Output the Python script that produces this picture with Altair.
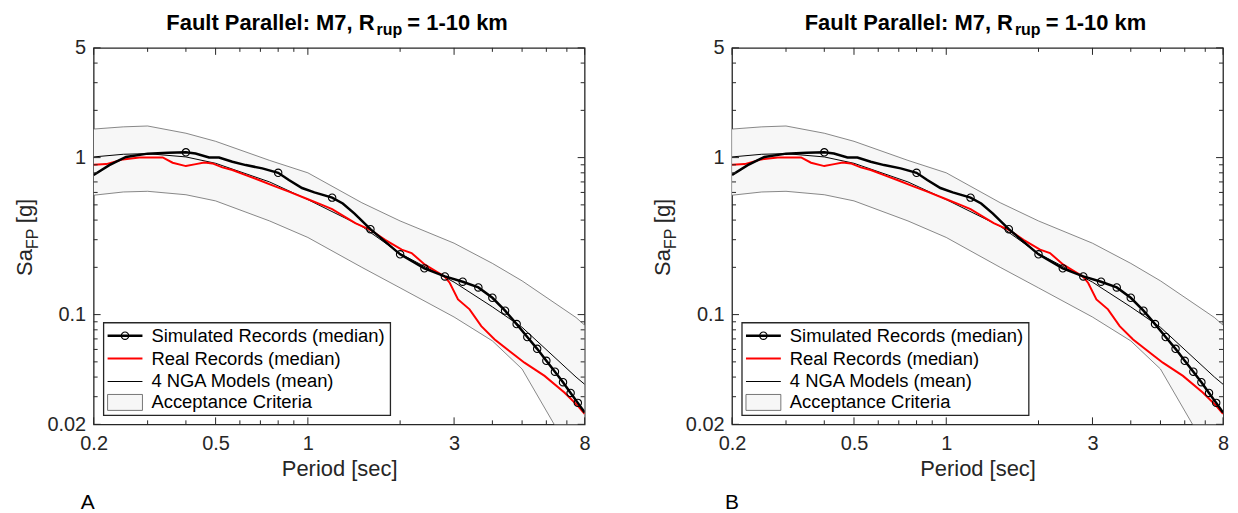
import altair as alt
import pandas as pd

# ---------------- data ----------------
# Acceptance criteria band and 4-NGA mean, at the NGA periods
nga_T = [0.2, 0.25, 0.3, 0.4, 0.5, 0.75, 1.0, 1.5, 2.0, 3.0, 4.0, 5.0, 7.5, 8.0]
band_upper = [1.52, 1.57, 1.59, 1.43, 1.27, 0.96, 0.80, 0.516, 0.395, 0.285, 0.212, 0.164, 0.0958, 0.0857]
band_lower = [0.576, 0.604, 0.61, 0.58, 0.53, 0.395, 0.31, 0.20, 0.148, 0.0965, 0.068, 0.045, 0.0115, 0.0098]
nga_mean = [1.01, 1.05, 1.06, 1.01, 0.92, 0.70, 0.54, 0.365, 0.245, 0.161, 0.112, 0.083, 0.040, 0.036]

# Simulated records (median)
sim_T = [0.2, 0.225, 0.255, 0.30, 0.35, 0.40, 0.43, 0.476, 0.513, 0.567, 0.627, 0.71, 0.80,
         0.867, 0.957, 1.05, 1.2, 1.3, 1.42, 1.6, 2.0, 2.4, 2.8, 3.2, 3.6, 4.0, 4.4, 4.8,
         5.2, 5.6, 6.0, 6.4, 6.8, 7.2, 7.6, 8.0]
sim_Sa = [0.775, 0.895, 1.01, 1.06, 1.075, 1.08, 1.063, 1.003, 1.0, 0.942, 0.896, 0.854, 0.80,
          0.72, 0.64, 0.60, 0.556, 0.51, 0.44, 0.35, 0.242, 0.197, 0.175, 0.162, 0.149, 0.128,
          0.106, 0.087, 0.072, 0.0605, 0.0508, 0.0433, 0.0371, 0.0317, 0.0274, 0.0238]
marker_T = [0.4, 0.8, 1.2, 1.6, 2.0, 2.4, 2.8, 3.2, 3.6, 4.0, 4.4, 4.8, 5.2, 5.6, 6.0, 6.4,
            6.8, 7.2, 7.6]

# Real records (median)
real_T = [0.2, 0.22, 0.249, 0.282, 0.336, 0.362, 0.40, 0.431, 0.459, 0.488, 0.526, 0.567,
          0.627, 0.692, 0.785, 0.867, 0.982, 1.112, 1.2, 1.428, 1.598, 1.787, 2.024, 2.18,
          2.41, 2.80, 2.905, 3.09, 3.37, 3.68, 4.07, 4.61, 5.09, 5.92, 6.87, 7.59, 8.0]
real_Sa = [0.90, 0.909, 0.974, 1.003, 1.003, 0.928, 0.883, 0.909, 0.932, 0.918, 0.867, 0.833,
           0.774, 0.72, 0.653, 0.607, 0.551, 0.50, 0.47, 0.382, 0.347, 0.2996, 0.259, 0.2466,
           0.208, 0.174, 0.159, 0.125, 0.108, 0.0845, 0.0695, 0.0573, 0.0494, 0.0407, 0.0319,
           0.0263, 0.0233]

# axis ticks
x_labels = [0.2, 0.5, 1, 3, 8]
x_minor = [0.3, 0.4, 0.6, 0.7, 0.8, 0.9, 2, 4, 5, 6, 7]
y_labels = [0.02, 0.1, 1, 5]
y_minor = [0.03, 0.04, 0.05, 0.06, 0.07, 0.08, 0.09, 0.2, 0.3, 0.4, 0.5, 0.6, 0.7, 0.8, 0.9, 2, 3, 4]

legend_labels = ["Simulated Records (median)", "Real Records (median)",
                 "4 NGA Models (mean)", "Acceptance Criteria"]
title_parts = ["Fault Parallel: M7, R", "rup", "= 1-10 km"]
ytitle_parts = ["Sa", "FP", "[g]"]
panel_names = ["A", "B"]

# ---------------- tables ----------------
band_df = pd.DataFrame({"T": nga_T, "up": band_upper, "lo": band_lower, "mean": nga_mean})
sim_df = pd.DataFrame({"T": sim_T, "Sa": sim_Sa})
sim_lookup = dict(zip([round(t, 3) for t in sim_T], sim_Sa))
mark_df = pd.DataFrame({"T": marker_T, "Sa": [sim_lookup[round(t, 3)] for t in marker_T]})
real_df = pd.DataFrame({"T": real_T, "Sa": real_Sa})
one = pd.DataFrame({"d": [0]})

W, H = 493, 378
FONT = "Liberation Sans"
AX = "#262626"

xs = alt.Scale(type="log", domain=[0.2, 8], nice=False)
ys = alt.Scale(type="log", domain=[0.02, 5], nice=False)

x_axis = alt.Axis(values=x_labels, format="~g", title="Period [sec]", ticks=False, tickSize=0,
                  domain=False, grid=False, labelFontSize=20, labelColor=AX, labelPadding=9,
                  labelFont=FONT, labelFlush=False, labelOverlap=False,
                  titleFont=FONT, titleFontSize=22, titleFontWeight="normal", titleColor=AX,
                  titlePadding=5)
y_axis = alt.Axis(values=y_labels, format="~g", title=None, ticks=False, tickSize=0,
                  domain=False, grid=False, labelFontSize=20, labelColor=AX, labelPadding=8,
                  labelFont=FONT, labelFlush=False, labelOverlap=False)


def X(field):
    return alt.X(f"{field}:Q", scale=xs, axis=x_axis)


def Y(field):
    return alt.Y(f"{field}:Q", scale=ys, axis=y_axis)


def tick_layers():
    layers = []
    for vals, ln in ((x_labels, 7), (x_minor, 4)):
        d = pd.DataFrame({"v": vals})
        layers.append(alt.Chart(d).mark_rule(color=AX, strokeWidth=1).encode(
            x=X("v"), y=alt.value(H), y2=alt.value(H - ln)))
        layers.append(alt.Chart(d).mark_rule(color=AX, strokeWidth=1).encode(
            x=X("v"), y=alt.value(0), y2=alt.value(ln)))
    for vals, ln in ((y_labels, 7), (y_minor, 4)):
        d = pd.DataFrame({"v": vals})
        layers.append(alt.Chart(d).mark_rule(color=AX, strokeWidth=1).encode(
            y=Y("v"), x=alt.value(0), x2=alt.value(ln)))
        layers.append(alt.Chart(d).mark_rule(color=AX, strokeWidth=1).encode(
            y=Y("v"), x=alt.value(W), x2=alt.value(W - ln)))
    return layers


def txt(s, x, y, size, weight="normal", align="left", baseline="alphabetic", angle=0, color="black"):
    kw = dict(align=align, baseline=baseline, fontSize=size, font=FONT, fontWeight=weight, color=color)
    if angle:
        kw["angle"] = angle
    return alt.Chart(one).mark_text(**kw).encode(
        x=alt.value(x), y=alt.value(y), text=alt.value(s))


def panel(name, name_dx):
    band = alt.Chart(band_df).mark_area(color="#f7f7f7", clip=True).encode(
        x=X("T"), y=Y("up"), y2="lo:Q")
    up = alt.Chart(band_df).mark_line(color="#555555", strokeWidth=0.7, clip=True).encode(
        x=X("T"), y=Y("up"))
    lo = alt.Chart(band_df).mark_line(color="#555555", strokeWidth=0.7, clip=True).encode(
        x=X("T"), y=Y("lo"))
    mean = alt.Chart(band_df).mark_line(color="black", strokeWidth=1, clip=True).encode(
        x=X("T"), y=Y("mean"))
    real = alt.Chart(real_df).mark_line(color="#ff0000", strokeWidth=2, clip=True).encode(
        x=X("T"), y=Y("Sa"))
    sim = alt.Chart(sim_df).mark_line(color="black", strokeWidth=2.5, clip=True).encode(
        x=X("T"), y=Y("Sa"))
    marks = alt.Chart(mark_df).mark_point(shape="circle", filled=False, color="black",
                                          size=55, strokeWidth=1.1, opacity=1, clip=True).encode(
        x=X("T"), y=Y("Sa"))

    # legend
    lg = [
        alt.Chart(one).mark_rect(fill="white", stroke=AX, strokeWidth=1.3).encode(
            x=alt.value(10), x2=alt.value(298), y=alt.value(276), y2=alt.value(369)),
        alt.Chart(one).mark_rule(color="black", strokeWidth=2.5).encode(
            x=alt.value(14), x2=alt.value(49), y=alt.value(289)),
        alt.Chart(one).mark_point(shape="circle", filled=False, color="black", size=55,
                                  strokeWidth=1.1, opacity=1).encode(
            x=alt.value(31.5), y=alt.value(289)),
        alt.Chart(one).mark_rule(color="#ff0000", strokeWidth=2).encode(
            x=alt.value(14), x2=alt.value(49), y=alt.value(312)),
        alt.Chart(one).mark_rule(color="black", strokeWidth=1).encode(
            x=alt.value(14), x2=alt.value(49), y=alt.value(335)),
        alt.Chart(one).mark_rect(fill="#f7f7f7", stroke="#555555", strokeWidth=0.8).encode(
            x=alt.value(14), x2=alt.value(49), y=alt.value(348), y2=alt.value(364)),
    ]
    for lab, yy in zip(legend_labels, (289, 312, 335, 356)):
        lg.append(txt(lab, 58, yy, 18.5, baseline="middle"))

    # title with subscript
    tx0 = 73
    t = [txt(title_parts[0], tx0, -18, 22, weight="bold"),
         txt(title_parts[1], tx0 + 211, -13, 16, weight="bold"),
         txt(title_parts[2], tx0 + 242, -18, 22, weight="bold")]

    # y title with subscript (rotated)
    yt = [txt(ytitle_parts[0], -62, 229, 22, angle=270, color=AX),
          txt(ytitle_parts[1], -56, 202, 16, angle=270, color=AX),
          txt(ytitle_parts[2], -62, 176, 22, angle=270, color=AX)]

    lab = [txt(name, name_dx, 463, 21)]

    layers = [band, up, lo, mean, real, sim, marks] + tick_layers() + lg + t + yt + lab
    return alt.layer(*layers).properties(width=W, height=H)


chart = alt.hconcat(panel(panel_names[0], -13), panel(panel_names[1], -7), spacing=60).properties(
    padding={"left": 5, "top": 2, "right": 0, "bottom": 0},
    background="white",
).configure_view(stroke=AX, strokeWidth=1.3)

chart.save("out.html", embed_options={"renderer": "svg", "actions": False})
